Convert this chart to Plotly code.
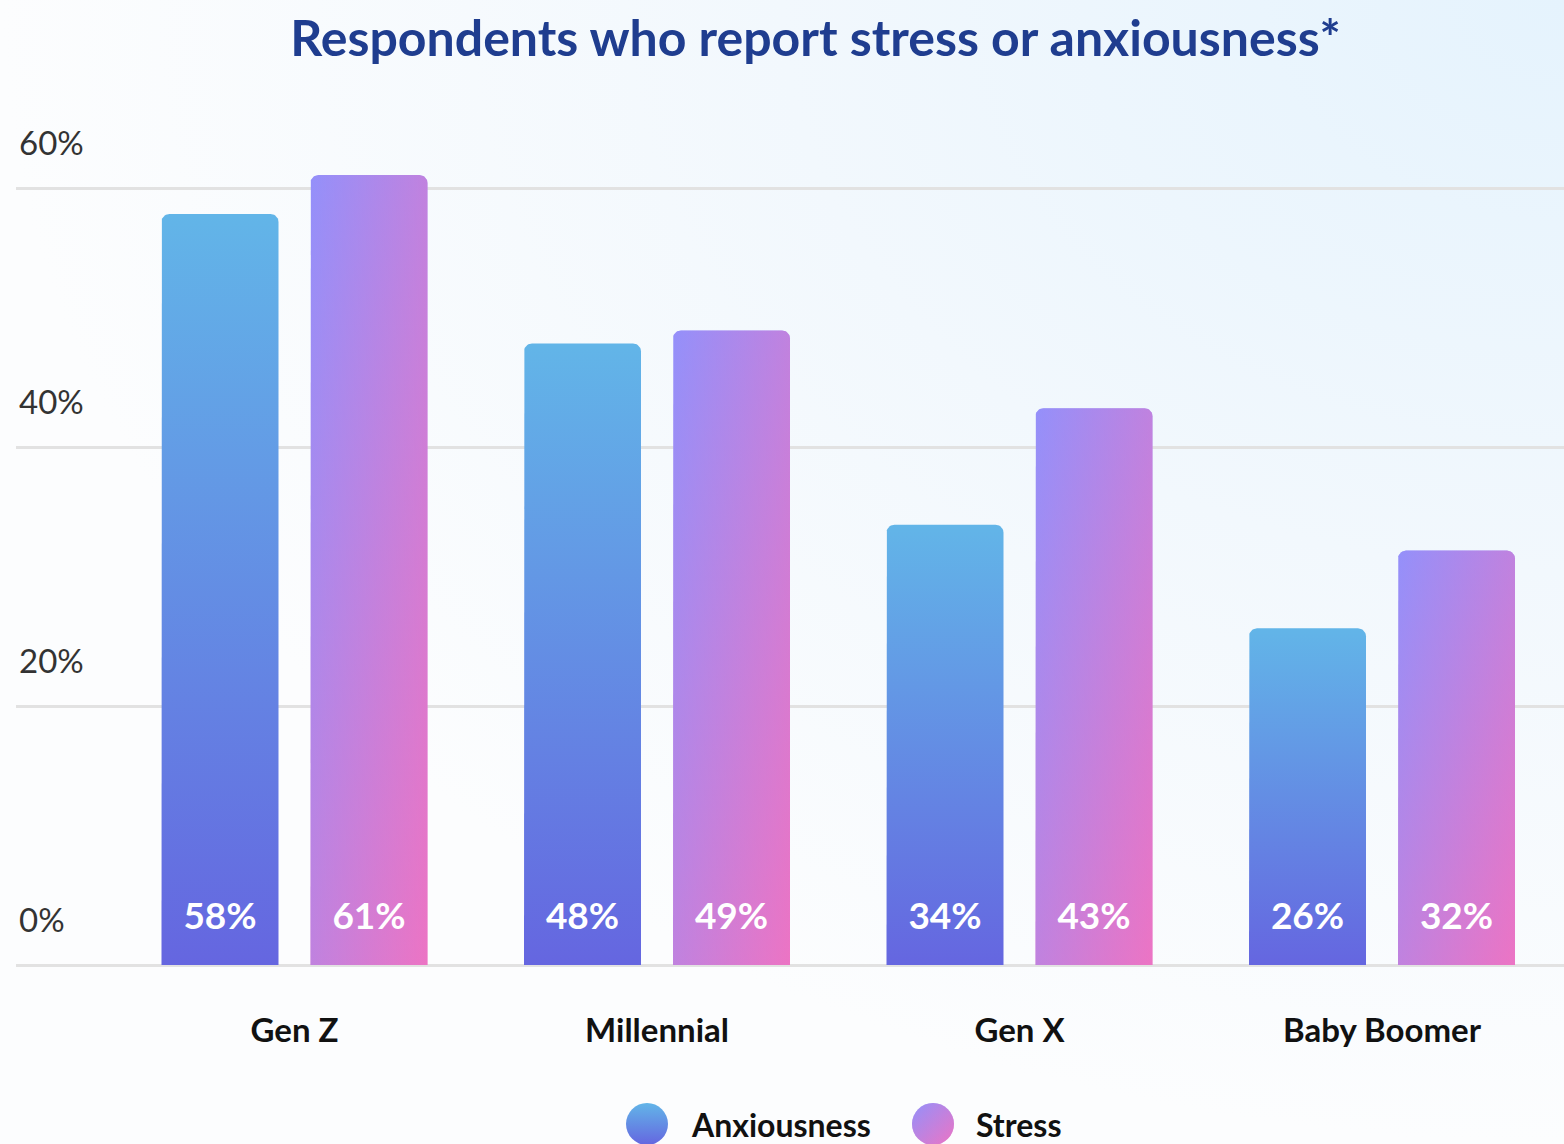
import math
import plotly.graph_objects as go

# ---- data -------------------------------------------------------------
generations = ["Gen Z", "Millennial", "Gen X", "Baby Boomer"]
anxiousness = [58, 48, 34, 26]
stress = [61, 49, 43, 32]
y_ticks = [0, 20, 40, 60]
series_names = ["Anxiousness", "Stress"]

# ---- geometry (pixels) ------------------------------------------------
W, H = 1564, 1144
FONT = "Lato"
PLOT_LEFT = 16
BASE_PX = 965              # pixel row of the 0% line
PX_PER_PCT = 777 / 60
GROUP_PX = 362.5
FIRST_GROUP_PX = 294.5
Y_MAX = 66

x_min = -(FIRST_GROUP_PX - PLOT_LEFT) / GROUP_PX
x_max = x_min + (W - PLOT_LEFT) / GROUP_PX
y_dom = [(H - BASE_PX) / H, (H - (BASE_PX - Y_MAX * PX_PER_PCT)) / H]

BAR_OFFSET = 74.5 / GROUP_PX
BAR_HALF = 58.5 / GROUP_PX
RADIUS = 8
rx = RADIUS / GROUP_PX
ry = RADIUS / PX_PER_PCT

# ---- colours ----------------------------------------------------------
ANX_TOP, ANX_BOTTOM = "#62b5e8", "#6566e0"
STR_A = (148, 144, 250)   # top-left of stress bars
STR_B = (236, 116, 196)   # bottom-right of stress bars


def rgb(c, a=1.0):
    return f"rgba({c[0]},{c[1]},{c[2]},{a})"


def bar_outline(xc, v):
    """Bar outline with rounded top corners, in data units."""
    x0, x1 = xc - BAR_HALF, xc + BAR_HALF
    xs, ys = [x0], [0]
    n = 10
    for k in range(n + 1):
        a = math.pi - k * (math.pi / 2) / n
        xs.append(x0 + rx + rx * math.cos(a))
        ys.append(v - ry + ry * math.sin(a))
    for k in range(n + 1):
        a = math.pi / 2 - k * (math.pi / 2) / n
        xs.append(x1 - rx + rx * math.cos(a))
        ys.append(v - ry + ry * math.sin(a))
    xs += [x1, x0]
    ys += [0, 0]
    return xs, ys


fig = go.Figure()

# soft background glow from the top-right corner (full-page axes x/y)
fig.add_trace(go.Scatter(
    x=[0, 2, 2, 0, 0], y=[0, 0, 2, 2, 0], mode="lines", fill="toself",
    line=dict(width=0), hoverinfo="skip", showlegend=False,
    fillgradient=dict(type="radial",
                      colorscale=[[0, "#e5f3fd"], [0.5, "#f2f8fd"], [1, "#fcfdfe"]]),
    xaxis="x", yaxis="y",
))

# bars
for i, (a_val, s_val) in enumerate(zip(anxiousness, stress)):
    xs, ys = bar_outline(i - BAR_OFFSET, a_val)
    fig.add_trace(go.Scatter(
        x=xs, y=ys, mode="lines", fill="toself", line=dict(width=0),
        fillgradient=dict(type="vertical", colorscale=[[0, ANX_BOTTOM], [1, ANX_TOP]]),
        hoverinfo="skip", showlegend=False, xaxis="x2", yaxis="y2",
    ))
    xs, ys = bar_outline(i + BAR_OFFSET, s_val)
    # diagonal blend: vertical base + half-transparent horizontal layer
    fig.add_trace(go.Scatter(
        x=xs, y=ys, mode="lines", fill="toself", line=dict(width=0),
        fillgradient=dict(type="vertical", colorscale=[[0, rgb(STR_B)], [1, rgb(STR_A)]]),
        hoverinfo="skip", showlegend=False, xaxis="x2", yaxis="y2",
    ))
    fig.add_trace(go.Scatter(
        x=xs, y=ys, mode="lines", fill="toself", line=dict(width=0),
        fillgradient=dict(type="horizontal",
                          colorscale=[[0, rgb(STR_A, 0.5)], [1, rgb(STR_B, 0.5)]]),
        hoverinfo="skip", showlegend=False, xaxis="x2", yaxis="y2",
    ))

# value labels near the base of each bar
LABEL_Y = 3.5
fig.add_trace(go.Scatter(
    x=[i - BAR_OFFSET for i in range(len(generations))] +
      [i + BAR_OFFSET for i in range(len(generations))],
    y=[LABEL_Y] * (2 * len(generations)),
    mode="text",
    text=[f"{v}%" for v in anxiousness] + [f"{v}%" for v in stress],
    textfont=dict(family=FONT, size=37, color="white", weight=700),
    hoverinfo="skip", showlegend=False, cliponaxis=False,
    xaxis="x2", yaxis="y2",
))

# custom legend
LEG_Y = 1 - 1124 / H
fig.add_trace(go.Scatter(
    x=[647 / W], y=[LEG_Y], mode="markers",
    marker=dict(size=42, color=ANX_TOP, line=dict(width=0),
                gradient=dict(type="vertical", color=ANX_BOTTOM)),
    hoverinfo="skip", showlegend=False, xaxis="x", yaxis="y",
))
fig.add_trace(go.Scatter(
    x=[933 / W], y=[LEG_Y], mode="markers",
    marker=dict(size=42, color=rgb(STR_A), line=dict(width=0),
                gradient=dict(type="vertical", color=rgb(STR_B))),
    hoverinfo="skip", showlegend=False, xaxis="x", yaxis="y",
))
fig.add_trace(go.Scatter(
    x=[933 / W], y=[LEG_Y], mode="markers",
    marker=dict(size=42, color=rgb(STR_A, 0.5), line=dict(width=0),
                gradient=dict(type="horizontal", color=rgb(STR_B, 0.5))),
    hoverinfo="skip", showlegend=False, xaxis="x", yaxis="y",
))
for name, px in zip(series_names, [689, 974]):
    fig.add_annotation(
        x=px / W, y=LEG_Y, xref="paper", yref="paper", text=name,
        showarrow=False, xanchor="left", yanchor="middle",
        font=dict(family=FONT, size=32, color="#111111", weight=700),
    )

fig.update_layout(
    width=W, height=H,
    margin=dict(l=0, r=0, t=0, b=0, pad=0),
    paper_bgcolor="white", plot_bgcolor="rgba(0,0,0,0)",
    showlegend=False,
    title=dict(
        text="Respondents who report stress or anxiousness*",
        x=815.5 / W, xanchor="center", y=1 - 38 / H, yanchor="middle",
        font=dict(family=FONT, size=50, color="#1f3d8f", weight=700),
    ),
    xaxis=dict(domain=[0, 1], range=[0, 1], visible=False, fixedrange=True),
    yaxis=dict(domain=[0, 1], range=[0, 1], visible=False, fixedrange=True),
    xaxis2=dict(
        domain=[PLOT_LEFT / W, 1], range=[x_min, x_max], anchor="y2",
        tickmode="array", tickvals=list(range(len(generations))), ticktext=generations,
        showgrid=False, zeroline=False, showline=False, ticks="",
        ticklabelstandoff=43,
        tickfont=dict(family=FONT, size=33, color="#111111", weight=700),
        fixedrange=True,
    ),
    yaxis2=dict(
        domain=y_dom, range=[0, Y_MAX], anchor="x2",
        tickmode="array", tickvals=y_ticks, ticktext=[f"{t}%" for t in y_ticks],
        showgrid=True, gridcolor="#e2e2e2", gridwidth=3,
        zeroline=True, zerolinecolor="#e2e2e2", zerolinewidth=3,
        showline=False, ticks="",
        ticklabelposition="inside", ticklabelshift=-45, ticklabelstandoff=0,
        tickfont=dict(family=FONT, size=33, color="#333333"),
        fixedrange=True,
    ),
)

fig.write_html("out.html", config={"displayModeBar": False})
